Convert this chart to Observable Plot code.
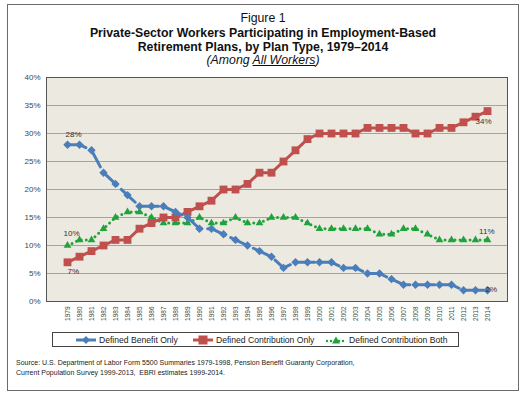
<!DOCTYPE html>
<html><head><meta charset="utf-8">
<script src="https://cdn.jsdelivr.net/npm/d3@7"></script>
<script src="https://cdn.jsdelivr.net/npm/@observablehq/plot@0.6"></script>
<style>
body{margin:0;background:#fff;font-family:"Liberation Sans",Arial,sans-serif;}
#wrap{position:relative;width:531px;height:399px;overflow:hidden;background:#fff;}
#frame{position:absolute;left:7px;top:4px;width:510px;height:385px;border:1.5px solid #6b6b6b;box-sizing:content-box;}
.t{position:absolute;left:7px;width:512px;text-align:center;color:#111;white-space:nowrap;}
#chart{position:absolute;left:0;top:70px;}
#legend{position:absolute;left:52px;top:332px;width:405px;height:13px;border:1px solid #444;font-size:8.6px;color:#222;}
#legend .it{position:absolute;top:1px;display:flex;align-items:center;height:11px;}
#legend svg{margin-right:2px;}
#source{position:absolute;left:16px;top:358px;font-size:7px;line-height:10px;color:#222;white-space:nowrap;}
</style></head>
<body>
<div id="wrap">
  <div id="frame"></div>
  <div class="t" style="top:11px;font-size:12.3px;">Figure 1</div>
  <div class="t" style="top:26px;font-size:12.3px;font-weight:bold;">Private-Sector Workers Participating in Employment-Based</div>
  <div class="t" style="top:40px;font-size:12.3px;font-weight:bold;">Retirement Plans, by Plan Type, 1979–2014</div>
  <div class="t" style="top:53px;font-size:12.3px;font-style:italic;">(Among <u>All Workers</u>)</div>
  <div id="chart"></div>
  <div id="legend"></div>
  <div id="source">Source: U.S. Department of Labor Form 5500 Summaries 1979-1998, Pension Benefit Guaranty Corporation,<br>Current Population Survey 1999-2013,&nbsp; EBRI estimates 1999-2014.</div>
</div>
<script>
const years = d3.range(1979, 2015);
const seriesNames = ["Defined Benefit Only", "Defined Contribution Only", "Defined Contribution Both"];
const dbOnly = [28,28,27,23,21,19,17,17,17,16,15,13,13,12,11,10,9,8,6,7,7,7,7,6,6,5,5,4,3,3,3,3,3,2,2,2];
const dcOnly = [7,8,9,10,11,11,13,14,15,15,16,17,18,20,20,21,23,23,25,27,29,30,30,30,30,31,31,31,31,30,30,31,31,32,33,34];
const dcBoth = [10,11,11,13,15,16,16,15,14,14,14,15,14,14,15,14,14,15,15,15,14,13,13,13,13,13,12,12,13,13,12,11,11,11,11,11];
const yTicks = [0,5,10,15,20,25,30,35,40];
const colors = ["#4a7ebb", "#c0504d", "#1fa33a"];

const rows = (vals, s) => vals.map((v, i) => ({year: String(years[i]), value: v, series: s}));
const db = rows(dbOnly, seriesNames[0]);
const dc = rows(dcOnly, seriesNames[1]);
const both = rows(dcBoth, seriesNames[2]);
const pct = d => `${d.value}%`;
const last = a => [a[a.length - 1]];
const first = a => [a[0]];

const chart = Plot.plot({
  width: 531, height: 260,
  marginLeft: 46, marginRight: 24, marginTop: 7, marginBottom: 29,
  style: {background: "transparent", fontFamily: "Liberation Sans, Arial, sans-serif"},
  x: {type: "point", domain: years.map(String), padding: 0.5, label: null},
  y: {domain: [0, 40], label: null},
  marks: [
    Plot.frame({fill: "#ece9e0"}),
    Plot.gridY(yTicks.slice(1, -1), {stroke: "#a3a3a3", strokeOpacity: 1, strokeWidth: 1}),
    Plot.axisY(yTicks, {tickSize: 0, tickPadding: 6, tickFormat: d => d + "%", fontSize: 8, fill: "#444"}),
    Plot.axisX({tickSize: 0, tickPadding: 5, tickRotate: -90, fontSize: 6.5, fill: "#444"}),
    Plot.frame({stroke: "#555", strokeWidth: 1}),
    Plot.line(both, {x: "year", y: "value", stroke: colors[2], strokeWidth: 3, strokeDasharray: "0,5", strokeLinecap: "round"}),
    Plot.dot(both, {x: "year", y: "value", symbol: "triangle2", r: 3.7, fill: colors[2], stroke: "none"}),
    Plot.line(dc, {x: "year", y: "value", stroke: colors[1], strokeWidth: 3}),
    Plot.dot(dc, {x: "year", y: "value", symbol: "square2", r: 5, fill: colors[1], stroke: "none"}),
    Plot.line(db, {x: "year", y: "value", stroke: colors[0], strokeWidth: 3, strokeDasharray: "19,6"}),
    Plot.dot(db, {x: "year", y: "value", symbol: "diamond2", r: 3.8, fill: colors[0], stroke: "none"}),
    Plot.text(first(db), {x: "year", y: "value", text: pct, textAnchor: "start", dx: -2, dy: -10, fontSize: 8, fill: "#333"}),
    Plot.text(first(both), {x: "year", y: "value", text: pct, textAnchor: "start", dx: -4, dy: -12, fontSize: 8, fill: "#333"}),
    Plot.text(first(dc), {x: "year", y: "value", text: pct, textAnchor: "start", dx: 0, dy: 9, fontSize: 8, fill: "#333"}),
    Plot.text(last(dc), {x: "year", y: "value", text: pct, textAnchor: "end", dx: 4, dy: 10, fontSize: 8, fill: "#333"}),
    Plot.text(last(both), {x: "year", y: "value", text: pct, textAnchor: "end", dx: 7, dy: -8, fontSize: 8, fill: "#333"}),
    Plot.text(last(db), {x: "year", y: "value", text: pct, textAnchor: "start", dx: -2, dy: -1, fontSize: 8, fill: "#333"})
  ]
});
document.getElementById("chart").appendChild(chart);

// legend
const legend = document.getElementById("legend");
const lefts = [22, 139, 272];
const swatches = [
  `<svg width="22" height="10"><line x1="1" y1="5" x2="21" y2="5" stroke="${colors[0]}" stroke-width="3"/><path d="M11,1 L15,5 L11,9 L7,5Z" fill="${colors[0]}"/></svg>`,
  `<svg width="22" height="10"><line x1="1" y1="5" x2="21" y2="5" stroke="${colors[1]}" stroke-width="3"/><rect x="6.5" y="0.5" width="9" height="9" fill="${colors[1]}"/></svg>`,
  `<svg width="22" height="10"><line x1="2" y1="6" x2="21" y2="6" stroke="${colors[2]}" stroke-width="2.5" stroke-dasharray="0,4" stroke-linecap="round"/><path d="M11,1.5 L15,8.5 L7,8.5Z" fill="${colors[2]}"/></svg>`
];
seriesNames.forEach((name, i) => {
  const el = document.createElement("div");
  el.className = "it";
  el.style.left = lefts[i] + "px";
  el.innerHTML = swatches[i] + `<span>${name}</span>`;
  legend.appendChild(el);
});
</script>
</body></html>
